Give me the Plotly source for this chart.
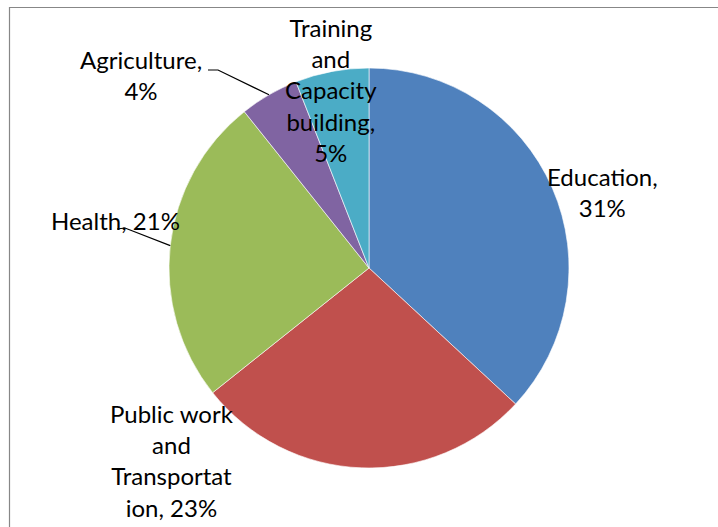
import math
import plotly.graph_objects as go

# Sector shares (percent) shown around the pie, clockwise from 12 o'clock
categories = ["Education", "Public work and Transportation", "Health",
              "Agriculture", "Training and Capacity building"]
shares = [31, 23, 21, 4, 5]
label_templates = [
    "Education,<br>{v}%",
    "Public work<br>and<br>Transportat<br>ion, {v}%",
    "Health, {v}%",
    "Agriculture,<br>{v}%",
    "Training<br>and<br>Capacity<br>building,<br>{v}%",
]
colors = ["#4F81BD", "#C0504D", "#9BBB59", "#8064A2", "#4BACC6"]

W, H = 718, 527
CX, CY, R = 369, 268, 200          # pie centre and radius in pixels
FONT = "Lato"

# label centres in pixels
label_pos = [(602, 192), (172, 460), (115, 220), (141, 75), (331, 90)]


def px(x):
    return x / W


def py(y):
    return 1 - y / H


fig = go.Figure(go.Pie(
    labels=categories,
    values=shares,
    sort=False,
    direction="clockwise",
    rotation=0,
    marker=dict(colors=colors, line=dict(color="rgba(255,255,255,0.6)", width=1)),
    textinfo="none",
    hoverinfo="label+value",
    showlegend=False,
    domain=dict(x=[px(CX - R), px(CX + R)], y=[py(CY + R), py(CY - R)]),
))

for tmpl, v, (lx, ly) in zip(label_templates, shares, label_pos):
    fig.add_annotation(
        x=px(lx), y=py(ly), xref="paper", yref="paper",
        text=tmpl.format(v=v), showarrow=False,
        xanchor="center", yanchor="middle", align="center",
        font=dict(family=FONT, size=24, color="#000000"),
    )

# Leader lines from labels to the middle of their slices
total = sum(shares)
cum = 0
mids = []
for v in shares:
    mids.append((cum + v / 2) / total * 2 * math.pi)
    cum += v


def edge(i):
    a = mids[i]
    return CX + R * math.sin(a), CY - R * math.cos(a)


leaders = {
    3: [(208, 70), (218, 70)],   # Agriculture
    2: [(117, 229), (125, 228)], # Health
}
for i, pts in leaders.items():
    ex, ey = edge(i)
    path = "M {} {}".format(px(pts[0][0]), py(pts[0][1]))
    for (x, y) in pts[1:] + [(ex, ey)]:
        path += " L {} {}".format(px(x), py(y))
    fig.add_shape(type="path", path=path, xref="paper", yref="paper",
                  line=dict(color="#000000", width=1.2))

# Chart area frame
fig.add_shape(type="rect", xref="paper", yref="paper",
              x0=px(9.5), y0=py(540), x1=px(740), y1=py(7.5),
              line=dict(color="#878787", width=1.2))

fig.update_layout(
    width=W, height=H,
    margin=dict(l=0, r=0, t=0, b=0),
    paper_bgcolor="#FFFFFF",
    plot_bgcolor="#FFFFFF",
    font=dict(family=FONT),
)

fig.write_html("out.html")
